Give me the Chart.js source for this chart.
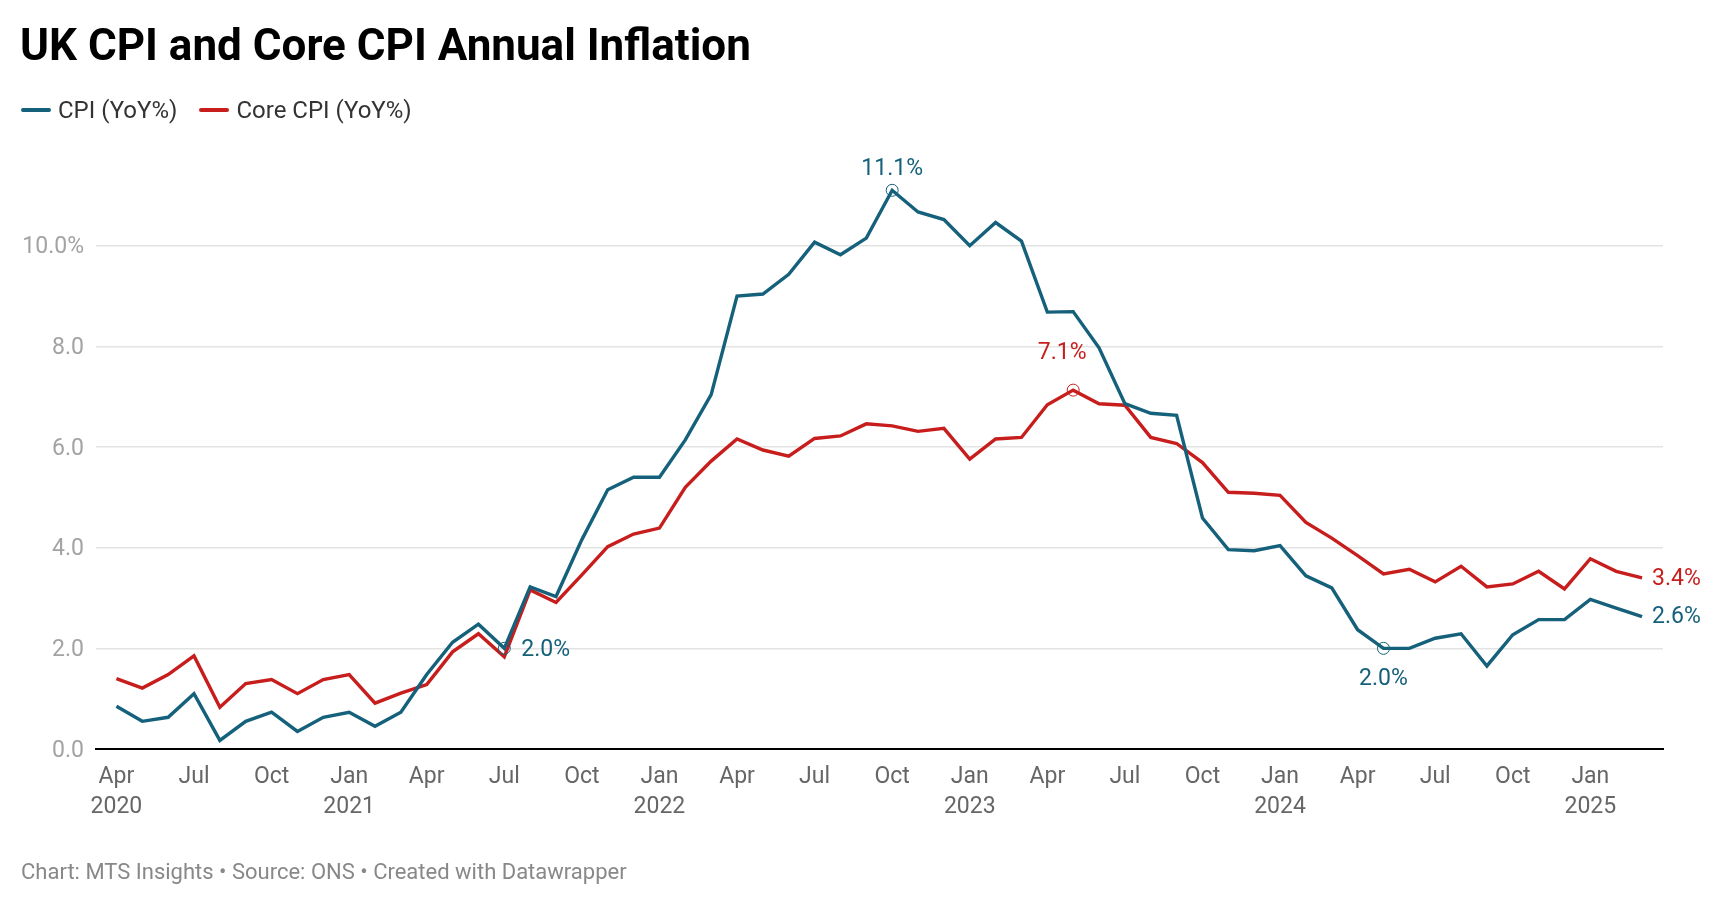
<!DOCTYPE html>
<html>
<head>
<meta charset="utf-8">
<title>UK CPI and Core CPI Annual Inflation</title>
<script src="https://cdn.jsdelivr.net/npm/chart.js@4.4.1/dist/chart.umd.min.js"></script>
<style>
    html, body { margin: 0; padding: 0; background: #fff; }
    #wrap { position: relative; width: 1724px; height: 906px; font-family: Roboto, sans-serif; }
    #chart { position: absolute; left: 0; top: 0; }
    h1 { position: absolute; left: 20px; top: 23px; margin: 0; font: 700 44px/44px Roboto, sans-serif; color: #000; white-space: nowrap; }
    .legend { position: absolute; left: 21px; top: 98px; display: flex; font: 400 24px/24px Roboto, sans-serif; color: #333; }
    .legend .item { display: flex; align-items: center; margin-right: 22px; }
    .legend .swatch { width: 30px; height: 3.5px; margin-right: 7px; border-radius: 2px; }
    .footer { position: absolute; left: 21px; top: 861px; font: 400 22px/22px Roboto, sans-serif; color: #888; white-space: nowrap; }
</style>
</head>
<body>
<div id="wrap">
    <canvas id="chart" width="1724" height="906"></canvas>
    <h1>UK CPI and Core CPI Annual Inflation</h1>
    <div class="legend">
        <span class="item"><span class="swatch" style="background:#15607a"></span>CPI (YoY%)</span>
        <span class="item"><span class="swatch" style="background:#c71e1d"></span>Core CPI (YoY%)</span>
    </div>
    <div class="footer">Chart: MTS Insights • Source: ONS • Created with Datawrapper</div>
</div>
<script>
// monthly, Apr 2020 .. Mar 2025
const startYear = 2020;
const startMonth = 3; // April (0-based)
const monthNames = ['Jan', 'Feb', 'Mar', 'Apr', 'May', 'Jun', 'Jul', 'Aug', 'Sep', 'Oct', 'Nov', 'Dec'];

const cpi = [
    0.85, 0.55, 0.63, 1.1, 0.17, 0.55, 0.73, 0.35, 0.63,
    0.73, 0.45, 0.73, 1.48, 2.12, 2.48, 2.0, 3.22, 3.03, 4.16, 5.15, 5.4,
    5.4, 6.14, 7.04, 9.0, 9.04, 9.43, 10.07, 9.82, 10.15, 11.1, 10.67, 10.52,
    10.0, 10.46, 10.09, 8.68, 8.69, 7.97, 6.86, 6.67, 6.63, 4.59, 3.96, 3.94,
    4.04, 3.44, 3.2, 2.37, 2.0, 2.0, 2.2, 2.29, 1.65, 2.27, 2.57, 2.57,
    2.97, 2.8, 2.63
];

const core = [
    1.4, 1.21, 1.48, 1.85, 0.83, 1.3, 1.38, 1.1, 1.38,
    1.48, 0.91, 1.11, 1.28, 1.93, 2.29, 1.83, 3.16, 2.91, 3.46, 4.02, 4.27,
    4.39, 5.2, 5.72, 6.16, 5.94, 5.82, 6.17, 6.22, 6.46, 6.42, 6.31, 6.37,
    5.76, 6.16, 6.19, 6.84, 7.13, 6.86, 6.83, 6.19, 6.07, 5.69, 5.1, 5.08,
    5.04, 4.5, 4.19, 3.84, 3.48, 3.57, 3.32, 3.63, 3.22, 3.28, 3.53, 3.18,
    3.78, 3.53, 3.4
];

const yTicks = [0, 2, 4, 6, 8, 10];

const blue = '#15607a';
const red = '#c71e1d';

const xTicks = [];
for (let i = 0; i < cpi.length; i += 3) xTicks.push(i);

function tickLabel(i) {
    const m = (startMonth + i) % 12;
    const y = startYear + Math.floor((startMonth + i) / 12);
    if (i === 0 || m === 0) return [monthNames[m], String(y)];
    return monthNames[m];
}

// labelled points: dataset, index, where the text goes
const notes = [
    { set: 0, i: 30, ring: true, dx: 0, dy: -15, align: 'center', base: 'alphabetic' },
    { set: 1, i: 37, ring: true, dx: -11, dy: -31, align: 'center', base: 'alphabetic' },
    { set: 0, i: 15, ring: true, dx: 17, dy: 2, align: 'left', base: 'middle' },
    { set: 0, i: 49, ring: true, dx: 0, dy: 37, align: 'center', base: 'alphabetic' },
    { set: 1, i: 59, ring: false, dx: 10, dy: 1, align: 'left', base: 'middle' },
    { set: 0, i: 59, ring: false, dx: 10, dy: 1, align: 'left', base: 'middle' }
];

const notesPlugin = {
    id: 'notes',
    afterDatasetsDraw(chart) {
        const ctx = chart.ctx;
        ctx.save();
        notes.forEach(n => {
            const ds = chart.data.datasets[n.set];
            const pt = chart.getDatasetMeta(n.set).data[n.i];
            const color = ds.borderColor;
            if (n.ring) {
                ctx.beginPath();
                ctx.arc(pt.x, pt.y, 6, 0, Math.PI * 2);
                ctx.lineWidth = 1;
                ctx.strokeStyle = color;
                ctx.stroke();
            }
            ctx.font = '400 23px Roboto, sans-serif';
            ctx.fillStyle = color;
            ctx.textAlign = n.align;
            ctx.textBaseline = n.base;
            ctx.fillText(ds.data[n.i].y.toFixed(1) + '%', pt.x + n.dx, pt.y + n.dy);
        });
        ctx.restore();
    }
};

const toPoints = arr => arr.map((v, i) => ({ x: i, y: v }));

new Chart(document.getElementById('chart'), {
    type: 'line',
    data: {
        datasets: [
            { label: 'CPI (YoY%)', data: toPoints(cpi), borderColor: blue, borderWidth: 3.4, pointRadius: 0, tension: 0 },
            { label: 'Core CPI (YoY%)', data: toPoints(core), borderColor: red, borderWidth: 3.4, pointRadius: 0, tension: 0 }
        ]
    },
    options: {
        responsive: false,
        devicePixelRatio: 1,
        animation: false,
        layout: { padding: { top: 145, left: 20, right: 61, bottom: 72 } },
        plugins: { legend: { display: false }, title: { display: false }, tooltip: { enabled: false } },
        scales: {
            x: {
                type: 'linear',
                min: -0.79,
                max: 59.81,
                afterBuildTicks: scale => { scale.ticks = xTicks.map(v => ({ value: v })); },
                afterFit: scale => { scale.height = 85; },
                grid: { display: false, drawTicks: false },
                border: { display: true, color: '#000', width: 2 },
                ticks: {
                    padding: 13,
                    color: '#666',
                    font: { family: 'Roboto', size: 23, lineHeight: 1.304 },
                    maxRotation: 0,
                    autoSkip: false,
                    callback: v => tickLabel(v)
                }
            },
            y: {
                min: 0,
                max: 12,
                afterBuildTicks: scale => { scale.ticks = yTicks.map(v => ({ value: v })); },
                afterFit: scale => { scale.width = 76; },
                grid: {
                    drawTicks: false,
                    color: ctx => ctx.tick && ctx.tick.value === 0 ? 'rgba(0,0,0,0)' : '#e3e3e3',
                    lineWidth: 1.5
                },
                border: { display: false },
                ticks: {
                    padding: 12,
                    labelOffset: 2,
                    color: '#a3a3a3',
                    font: { family: 'Roboto', size: 23 },
                    callback: v => v === 10 ? '10.0%' : v.toFixed(1)
                }
            }
        }
    },
    plugins: [notesPlugin]
});
</script>
</body>
</html>
